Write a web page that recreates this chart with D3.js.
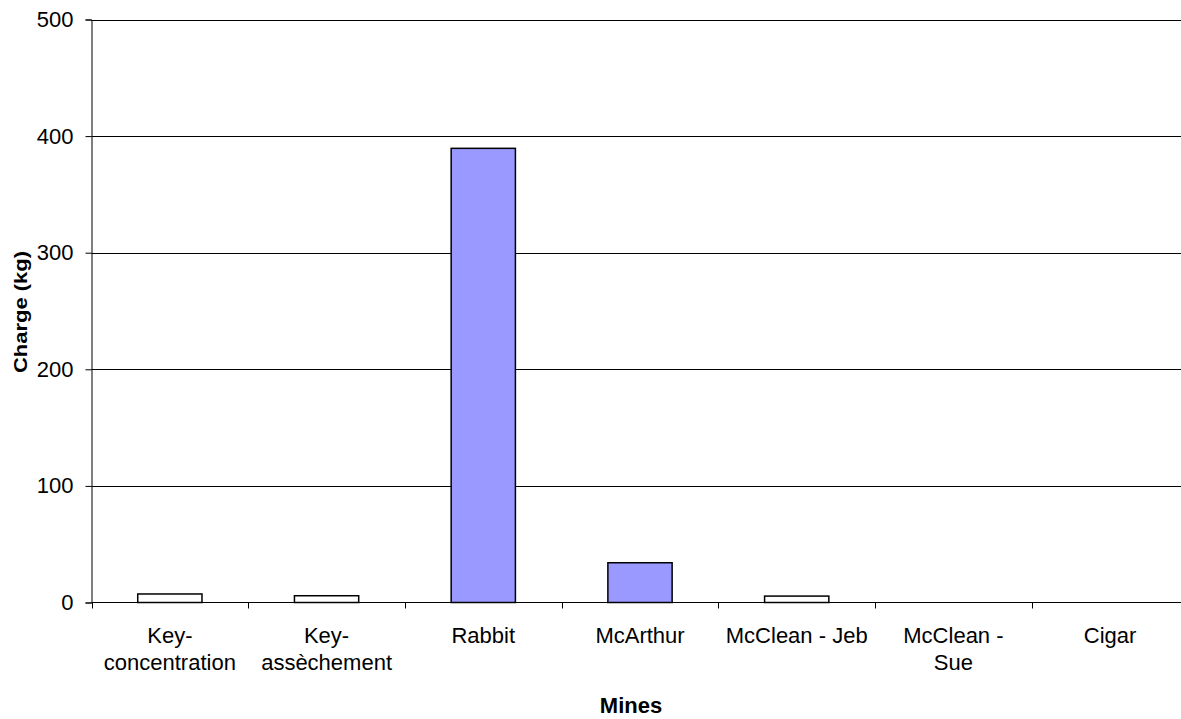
<!DOCTYPE html>
<html><head><meta charset="utf-8">
<script src="https://cdn.jsdelivr.net/npm/d3@7"></script>
<style>body{margin:0;background:#fff}svg{display:block}text{font-family:"Liberation Sans",Arial,sans-serif;fill:#000}</style>
</head><body><svg id="c" width="1181" height="719"></svg>
<script>
const categories = ["Key-|concentration","Key-|assèchement","Rabbit","McArthur","McClean - Jeb","McClean -|Sue","Cigar"];
const values = [7.3, 5.8, 389.5, 34.1, 5.5, 0, 0];
const highlighted = [false, false, true, true, false, false, false];
const yTicks = [0,100,200,300,400,500];

(function(){
const svg = d3.select("#c");
const mL = 91.5, mR = 1188.5, mT = 19.5, mB = 602.5;
const x = d3.scaleBand().domain(categories).range([mL, mR]).padding(0);
const y = d3.scaleLinear().domain([0,500]).range([mB, mT]);

// gridlines
svg.append("g").selectAll("line").data(yTicks.filter(d=>d>0)).join("line")
  .attr("x1", mL).attr("x2", mR).attr("y1", d=>Math.round(y(d))+0.5).attr("y2", d=>Math.round(y(d))+0.5)
  .attr("stroke", "#000").attr("stroke-width", 1);

// y axis
const ya = svg.append("g").attr("transform", `translate(${mL},0)`)
  .call(d3.axisLeft(y).tickValues(yTicks).tickSize(6).tickPadding(12));
ya.select(".domain").attr("stroke","#000");
ya.selectAll(".tick line").attr("stroke","#000");
ya.selectAll(".tick text").attr("font-size","22px").attr("font-family","Liberation Sans, Arial, sans-serif");

// bars
const bw = x.bandwidth()*0.41;
svg.append("g").selectAll("rect").data(values).join("rect")
  .attr("x", (d,i)=>x(categories[i]) + x.bandwidth()/2 - bw/2)
  .attr("width", bw)
  .attr("y", d=>y(d))
  .attr("height", d=>mB - y(d))
  .attr("fill", (d,i)=>highlighted[i] ? "#9999FF" : "#FFFFFF")
  .attr("stroke", "#000").attr("stroke-width", d=>d>0?1.5:0);

// x axis
svg.append("line").attr("x1", mL).attr("x2", mR).attr("y1", mB).attr("y2", mB).attr("stroke","#000").attr("stroke-width",1.2);
const bounds = categories.map(c=>x(c)).concat([mR]);
svg.append("g").selectAll("line").data(bounds).join("line")
  .attr("x1", d=>Math.round(d)+0.5).attr("x2", d=>Math.round(d)+0.5)
  .attr("y1", mB).attr("y2", mB+6).attr("stroke","#000");

// x labels
const lab = svg.append("g").selectAll("text").data(categories).join("text")
  .attr("x", d=>x(d)+x.bandwidth()/2).attr("y", 643)
  .attr("text-anchor","middle").attr("font-size","22px");
lab.each(function(d){
  const parts = d.split("|");
  const t = d3.select(this);
  parts.forEach((p,i)=>t.append("tspan").attr("x", x(d)+x.bandwidth()/2).attr("dy", i===0?0:27).text(p));
});

// titles
svg.append("text").attr("x", 631).attr("y", 713).attr("text-anchor","middle")
  .attr("font-size","22px").attr("font-weight","bold").text("Mines");
svg.append("text").attr("transform","translate(27,312) scale(0.82,1) rotate(-90)").attr("text-anchor","middle")
  .attr("font-size","22px").attr("font-weight","bold").text("Charge (kg)");
})();
</script></body></html>
